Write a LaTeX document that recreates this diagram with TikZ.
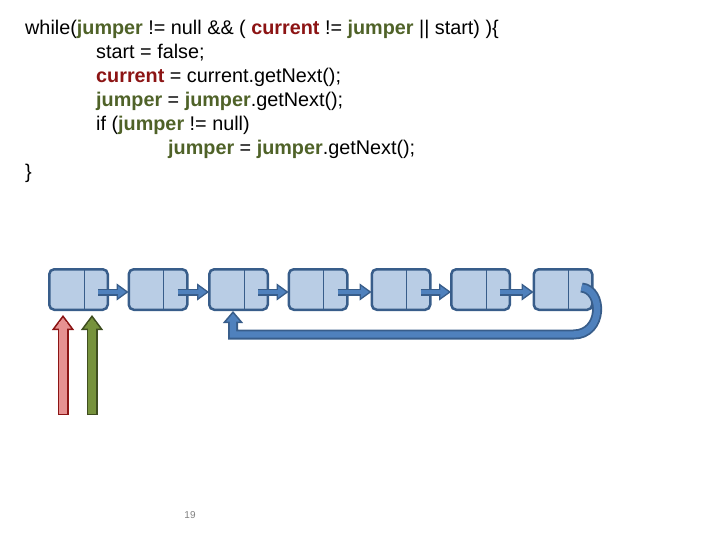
\documentclass[tikz,border=0pt]{standalone}
\usepackage{fontspec}
\setmainfont{Liberation Sans}
\usetikzlibrary{arrows.meta,positioning,calc}
\definecolor{cellfill}{RGB}{185,205,229}
\definecolor{celledge}{RGB}{56,93,138}
\definecolor{linkfill}{RGB}{79,129,189}
\definecolor{curred}{RGB}{140,20,20}
\definecolor{curredfill}{RGB}{230,145,145}
\definecolor{jumpgreen}{RGB}{79,98,40}
\definecolor{jumpgreenfill}{RGB}{118,146,60}
\newcommand{\cur}{\textcolor{curred}{\textbf{current}}}
\newcommand{\jmp}{\textcolor{jumpgreen}{\textbf{jumper}}}

\begin{document}
\begin{tikzpicture}[
    x=1pt,y=-1pt,
    every node/.style={font=\fontsize{19.8}{24}\selectfont},
    codeline/.style={anchor=base west,inner sep=0pt},
    cell/.style={rectangle,rounded corners=5pt,draw=celledge,fill=cellfill,line width=2.5pt,
      minimum width=58.5pt,minimum height=40.5pt,inner sep=0pt},
    link/.style={draw=celledge,line width=7pt,
      -{Triangle[width=17pt,length=12pt,fill=linkfill,line width=1.3pt]},
      postaction={draw=linkfill,line width=4.4pt,-,shorten >=6pt,shorten <=0pt}},
    backlink/.style={draw=celledge,line width=10pt,
      -{Triangle[width=20pt,length=12pt,fill=linkfill,line width=1.5pt]},
      postaction={draw=linkfill,line width=6.4pt,-,shorten >=7pt}},
    pointer/.style={line width=11pt}
  ]
    \useasboundingbox (0,0) rectangle (720,540);

    % code
    \node[codeline] (l1) at (25,35) {while(\jmp{} != null \&\& ( \cur{} != \jmp{} || start) )\{};
    \node[codeline] (l2) at (96,59) {start = false;};
    \node[codeline] (l3) at (96,83) {\cur{} = current.getNext();};
    \node[codeline] (l4) at (96,107) {\jmp{} = \jmp.getNext();};
    \node[codeline] (l5) at (96,131) {if (\jmp{} != null)};
    \node[codeline] (l6) at (168,155) {\jmp{} = \jmp.getNext();};
    \node[codeline] (l7) at (25,179) {\}};

    % list
    \foreach \i/\x in {1/78.5,2/158,3/238.5,4/318,5/401,6/480.5,7/563} {
      \node[cell] (n\i) at (\x,289.5) {};
      \draw[celledge,line width=0.8pt] ($(n\i.north west)+(36,0)$) -- ($(n\i.south west)+(36,0)$);
    }
    \foreach \i/\j in {1/2,2/3,3/4,4/5,5/6,6/7}
      \draw[link] ($(n\i.east)+(-11,2.5)$) -- ($(n\j.west)+(1,2.5)$);

    % loop back
    \coordinate (tail) at ($(n7.east)+(-12,-2)$);
    \coordinate (turn) at ($(n3.south)+(-5.5,23.5)$);
    \coordinate (bend) at ($(turn -| tail)+(-8,0)$);
    \draw[backlink] (tail) .. controls ($(tail)+(22,2)$) and ($(bend)+(30,0)$) .. (bend)
      -- (turn) -- (turn |- n3.south);

    % pointers
    \coordinate (curbase) at (63,415);
    \coordinate (jmpbase) at (92,415);
    \coordinate (ptrtip) at ($(n1.south)+(0,4)$);
    \draw[pointer,draw=curred,postaction={draw=curredfill,line width=7.6pt,-,shorten >=7pt,shorten <=1.5pt},
      -{Triangle[width=22pt,length=15pt,line width=1.5pt,fill=curredfill]}]
      (curbase) -- (curbase |- ptrtip);
    \draw[pointer,draw=jumpgreen!80!black,postaction={draw=jumpgreenfill,line width=7.6pt,-,shorten >=7pt,shorten <=1.5pt},
      -{Triangle[width=22pt,length=15pt,line width=1.5pt,fill=jumpgreenfill]}]
      (jmpbase) -- (jmpbase |- ptrtip);

    \node[font=\fontsize{10}{12}\selectfont,text=gray] (page) at (190,515) {19};
  \end{tikzpicture}
\end{document}
